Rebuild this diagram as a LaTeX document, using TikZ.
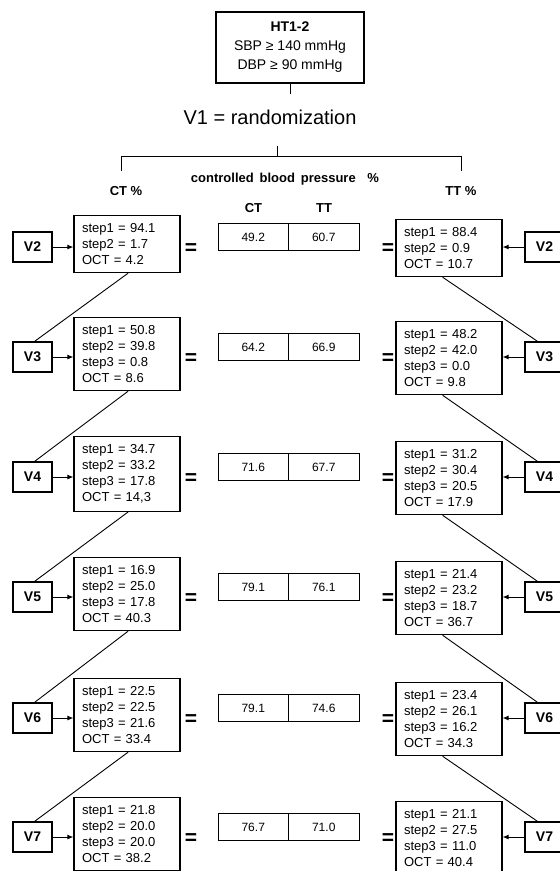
\documentclass[tikz,border=0pt]{standalone}
\usepackage{fontspec}
\setmainfont{Liberation Sans}
\usetikzlibrary{calc,arrows.meta}
\begin{document}
\begin{tikzpicture}[x=1pt,y=-1pt,
  vbox/.style={draw, line width=1.8pt, minimum width=39pt, minimum height=30pt, font=\fontsize{14}{16}\selectfont\bfseries, inner sep=0pt},
  stepbox/.style={draw, line width=1.2pt, text width=90pt, align=left, font=\fontsize{13}{16}\selectfont, inner xsep=8pt, inner ysep=8pt},
  valbox/.style={draw, line width=0.9pt, minimum width=70.5pt, minimum height=27pt, font=\fontsize{12}{14}\selectfont, inner sep=0pt},
  eqsign/.style={font=\fontsize{21}{21}\selectfont\bfseries, inner sep=0pt},
  hdr/.style={font=\fontsize{13}{15}\selectfont\bfseries, inner sep=0pt},
  arr/.style={-{Latex[length=6pt,width=5pt]}, line width=0.9pt},
  link/.style={line width=0.9pt}
]
\useasboundingbox (0,0) rectangle (560,871);
\clip (0,0) rectangle (560,871);

% top
\node[draw, line width=1.8pt, minimum width=148pt, minimum height=71pt, align=center,
      font=\fontsize{14}{19}\selectfont, inner sep=0pt] (ht) at (290,47.5)
      {\textbf{HT1-2}\\SBP ≥ 140 mmHg\\DBP ≥ 90 mmHg};
\coordinate (htend) at (290,94);
\draw[link] (ht.south) -- (htend);
\node[font=\fontsize{20}{22}\selectfont, inner sep=0pt] (rand) at (270,117) {V1 = randomization};
\coordinate (tickt) at (277,146);
\coordinate (tickb) at (277,156);
\coordinate (bl) at (121,156);
\coordinate (br) at (461,156);
\coordinate (blb) at (121,171);
\coordinate (brb) at (461,171);
\draw[link] (tickt) -- (tickb);
\draw[link] (blb) -- (bl) -- (br) -- (brb);
\node[hdr] (cbp) at (285,179) {controlled\hspace{0.45em}blood\hspace{0.45em}pressure\hspace{0.9em}\%};
\node[hdr] (ctp) at (126,191) {CT \%};
\node[hdr] (ttp) at (461,191) {TT \%};
\node[hdr] (cth) at (253.5,208) {CT};
\node[hdr] (tth) at (324,208) {TT};

% rows
\foreach \r/\y/\ltxt/\ctv/\ttv/\rtxt in {
  2/247/{step1 = 94.1\\step2 = 1.7\\OCT = 4.2}/49.2/60.7/{step1 = 88.4\\step2 = 0.9\\OCT = 10.7},
  3/357/{step1 = 50.8\\step2 = 39.8\\step3 = 0.8\\OCT = 8.6}/64.2/66.9/{step1 = 48.2\\step2 = 42.0\\step3 = 0.0\\OCT = 9.8},
  4/477/{step1 = 34.7\\step2 = 33.2\\step3 = 17.8\\OCT = 14,3}/71.6/67.7/{step1 = 31.2\\step2 = 30.4\\step3 = 20.5\\OCT = 17.9},
  5/597/{step1 = 16.9\\step2 = 25.0\\step3 = 17.8\\OCT = 40.3}/79.1/76.1/{step1 = 21.4\\step2 = 23.2\\step3 = 18.7\\OCT = 36.7},
  6/718/{step1 = 22.5\\step2 = 22.5\\step3 = 21.6\\OCT = 33.4}/79.1/74.6/{step1 = 23.4\\step2 = 26.1\\step3 = 16.2\\OCT = 34.3},
  7/837/{step1 = 21.8\\step2 = 20.0\\step3 = 20.0\\OCT = 38.2}/76.7/71.0/{step1 = 21.1\\step2 = 27.5\\step3 = 11.0\\OCT = 40.4}}
{
  \node[vbox] (vl\r) at (32.5,\y) {V\r};
  \node[stepbox] (sl\r) at (127,\y-3) {\ltxt};
  \node[eqsign] (el\r) at (191,\y+2) {=};
  \node[valbox] (c\r) at (253.25,\y-10) {\ctv};
  \node[valbox] (t\r) at (323.75,\y-10) {\ttv};
  \node[eqsign] (er\r) at (388,\y+2) {=};
  \node[stepbox] (sr\r) at (449,\y+1) {\rtxt};
  \node[vbox] (vr\r) at (544.5,\y) {V\r};
  \draw[arr] (vl\r.east) -- (sl\r.west |- vl\r.east);
  \draw[arr] (vr\r.west) -- (sr\r.east |- vr\r.west);
}
\foreach \a/\b in {2/3,3/4,4/5,5/6,6/7}{
  \draw[link] ($(sl\a.south west)!0.51!(sl\a.south east)$) -- ($(vl\b.north west)!0.56!(vl\b.north east)$);
  \draw[link] ($(sr\a.south west)!0.44!(sr\a.south east)$) -- ($(vr\b.north west)!0.32!(vr\b.north east)$);
}
\end{tikzpicture}
\end{document}
